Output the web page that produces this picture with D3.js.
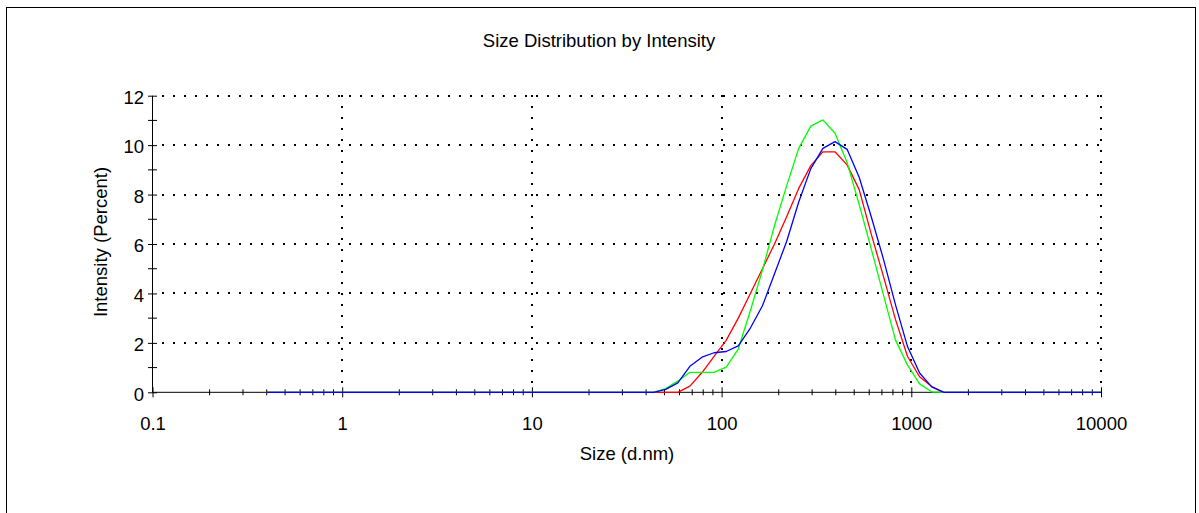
<!DOCTYPE html>
<html>
<head>
<meta charset="utf-8">
<script src="https://cdn.jsdelivr.net/npm/d3@7"></script>
<style>
  html, body { margin: 0; padding: 0; background: #fff; }
  svg { display: block; }
  text { font-family: "Liberation Sans", Arial, sans-serif; fill: #000; }
</style>
</head>
<body>
<svg id="chart" width="1199" height="513"></svg>
<script>
// ---- data ----
const sizes = [0.4, 0.4632, 0.5365, 0.6213, 0.7195, 0.8332, 0.9649, 1.117, 1.294, 1.499,
  1.736, 2.010, 2.328, 2.696, 3.122, 3.615, 4.187, 4.849, 5.615, 6.503,
  7.531, 8.721, 10.10, 11.70, 13.54, 15.69, 18.17, 21.04, 24.36, 28.21,
  32.67, 37.84, 43.82, 50.75, 58.77, 68.06, 78.82, 91.28, 105.7, 122.4,
  141.8, 164.2, 190.1, 220.2, 255.0, 295.3, 342.0, 396.1, 458.7, 531.2,
  615.1, 712.4, 825.0, 955.4, 1106, 1281, 1484, 1718, 1990, 2305,
  2669, 3091, 3580, 4145, 4801, 5560, 6439, 7456, 8635, 10000];

const redValues = [0, 0, 0, 0, 0, 0, 0, 0, 0, 0,
  0, 0, 0, 0, 0, 0, 0, 0, 0, 0,
  0, 0, 0, 0, 0, 0, 0, 0, 0, 0,
  0, 0, 0, 0, 0, 0.25, 0.8, 1.45, 2.1, 3.0,
  4.0, 5.0, 6.0, 7.1, 8.25, 9.17, 9.73, 9.73, 9.2, 8.2,
  6.4, 4.7, 2.95, 1.45, 0.63, 0.23, 0, 0, 0, 0,
  0, 0, 0, 0, 0, 0, 0, 0, 0, 0];

const greenValues = [0, 0, 0, 0, 0, 0, 0, 0, 0, 0,
  0, 0, 0, 0, 0, 0, 0, 0, 0, 0,
  0, 0, 0, 0, 0, 0, 0, 0, 0, 0,
  0, 0, 0, 0.15, 0.45, 0.81, 0.81, 0.81, 1.02, 1.75,
  3.3, 4.95, 6.75, 8.35, 9.87, 10.77, 11.02, 10.48, 9.3, 7.6,
  5.8, 3.95, 2.12, 1.1, 0.34, 0.02, 0, 0, 0, 0,
  0, 0, 0, 0, 0, 0, 0, 0, 0, 0];

const blueValues = [0, 0, 0, 0, 0, 0, 0, 0, 0, 0,
  0, 0, 0, 0, 0, 0, 0, 0, 0, 0,
  0, 0, 0, 0, 0, 0, 0, 0, 0, 0,
  0, 0, 0, 0.12, 0.38, 1.05, 1.42, 1.6, 1.65, 1.88,
  2.6, 3.5, 4.8, 6.1, 7.7, 9.05, 9.87, 10.14, 9.83, 8.7,
  7.1, 5.4, 3.55, 1.85, 0.78, 0.22, 0, 0, 0, 0,
  0, 0, 0, 0, 0, 0, 0, 0, 0, 0];

const xMajorTicks = [0.1, 1, 10, 100, 1000, 10000];
const xTickLabels = ["0.1", "1", "10", "100", "1000", "10000"];
const yMajorTicks = [0, 2, 4, 6, 8, 10, 12];
const yMinorTicks = [1, 3, 5, 7, 9, 11];
const titleText = "Size Distribution by Intensity";
const xLabel = "Size (d.nm)";
const yLabel = "Intensity (Percent)";

// ---- layout ----
const svg = d3.select("#chart");
const FONT = 18.5;
const x = d3.scaleLog().domain([0.1, 10000]).range([152.5, 1101]);
const y = d3.scaleLinear().domain([0, 12]).range([392.3, 95.7]);

// outer frame
svg.append("rect")
  .attr("x", 6.5).attr("y", 7.5).attr("width", 1189).attr("height", 520)
  .attr("fill", "none").attr("stroke", "#000").attr("stroke-width", 1);

// title
svg.append("text").attr("x", 599).attr("y", 47)
  .attr("text-anchor", "middle").style("font-size", FONT + "px").text(titleText);

// grid (dotted)
const grid = svg.append("g");
yMajorTicks.filter(v => v > 0).forEach(v => {
  const yy = Math.round(y(v));
  grid.append("line")
    .attr("x1", 152.5).attr("x2", 1102).attr("y1", yy).attr("y2", yy)
    .attr("stroke", "#000").attr("stroke-width", 2)
    .attr("stroke-dasharray", "2,9").attr("stroke-dashoffset", 1.2)
    .attr("shape-rendering", "crispEdges");
});
xMajorTicks.filter(v => v > 0.1).forEach(v => {
  const xx = Math.round(x(v));
  grid.append("line")
    .attr("x1", xx).attr("x2", xx).attr("y1", y(12) - 1).attr("y2", y(0))
    .attr("stroke", "#000").attr("stroke-width", 2)
    .attr("stroke-dasharray", "2,9").attr("stroke-dashoffset", 0)
    .attr("shape-rendering", "crispEdges");
});

// x axis
const xMinor = [];
for (let d = 0.1; d < 10000; d *= 10) {
  for (let k = 2; k <= 9; k++) xMinor.push(+(d * k).toPrecision(3));
}
const xAxis = d3.axisBottom(x).tickValues(xMajorTicks)
  .tickFormat((d, i) => xTickLabels[i]).tickSize(5).tickPadding(20);
const gx = svg.append("g").attr("transform", `translate(0,${y(0)})`).call(xAxis);
gx.select(".domain").attr("d", `M${x(0.1)},0H${x(10000)}`).attr("stroke", "#000");
gx.selectAll(".tick line").attr("y1", -5).attr("y2", 5).attr("stroke", "#000");
gx.selectAll(".tick text").style("font-size", FONT + "px").style("font-family", "Liberation Sans, Arial, sans-serif").attr("dy", "0.71em");
const gxm = svg.append("g").attr("transform", `translate(0,${y(0)})`);
gxm.selectAll("line").data(xMinor).enter().append("line")
  .attr("x1", d => x(d)).attr("x2", d => x(d)).attr("y1", -3).attr("y2", 3)
  .attr("stroke", "#000").attr("stroke-width", 1);

// y axis
const yAxis = d3.axisLeft(y).tickValues(yMajorTicks).tickFormat(d3.format("d"))
  .tickSize(4.5).tickPadding(4);
const gy = svg.append("g").attr("transform", `translate(${x(0.1)},0)`).call(yAxis);
gy.select(".domain").attr("d", `M0,${y(12)}V${y(0)}`).attr("stroke", "#000");
gy.selectAll(".tick line").attr("x1", -4.5).attr("x2", 4.5).attr("stroke", "#000");
gy.selectAll(".tick text").style("font-size", FONT + "px").style("font-family", "Liberation Sans, Arial, sans-serif").attr("dy", "0.42em").attr("x", -8.5);
const gym = svg.append("g").attr("transform", `translate(${x(0.1)},0)`);
gym.selectAll("line").data(yMinorTicks).enter().append("line")
  .attr("x1", -4.5).attr("x2", 4.5).attr("y1", d => y(d)).attr("y2", d => y(d))
  .attr("stroke", "#000").attr("stroke-width", 1);

// axis labels
svg.append("text").attr("x", 627).attr("y", 460)
  .attr("text-anchor", "middle").style("font-size", FONT + "px").text(xLabel);
svg.append("text").attr("transform", "translate(107,242) rotate(-90)")
  .attr("text-anchor", "middle").style("font-size", FONT + "px").text(yLabel);

// series
const line = d3.line().x(d => x(d[0])).y(d => y(d[1]));
const series = [
  { values: redValues, color: "#ff0000" },
  { values: greenValues, color: "#00ff00" },
  { values: blueValues, color: "#0000ff" }
];
series.forEach(s => {
  svg.append("path")
    .datum(sizes.map((sz, i) => [sz, s.values[i]]))
    .attr("d", line)
    .attr("fill", "none").attr("stroke", s.color).attr("stroke-width", 1.3)
    .attr("stroke-linejoin", "round");
});
</script>
</body>
</html>
